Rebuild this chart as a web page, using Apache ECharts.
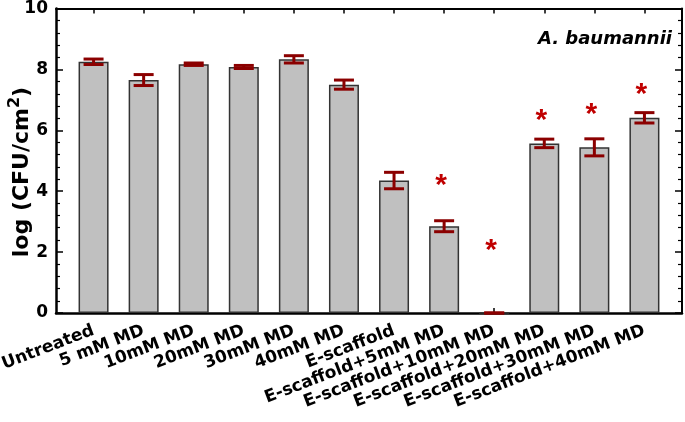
<!DOCTYPE html>
<html>
<head>
<meta charset="utf-8">
<script src="https://cdn.jsdelivr.net/npm/echarts@6/dist/echarts.min.js"></script>
<style>html,body{margin:0;padding:0;background:#fff;}#c{width:685px;height:422px;}</style>
</head>
<body>
<div id="c"></div>
<script>
const categories = ['Untreated','5 mM MD','10mM MD','20mM MD','30mM MD','40mM MD','E-scaffold','E-scaffold+5mM MD','E-scaffold+10mM MD','E-scaffold+20mM MD','E-scaffold+30mM MD','E-scaffold+40mM MD'];
const means = [8.25, 7.65, 8.17, 8.08, 8.33, 7.50, 4.35, 2.85, 0, 5.57, 5.44, 6.41];
const errors = [0.09, 0.18, 0.04, 0.05, 0.12, 0.15, 0.27, 0.18, 0, 0.14, 0.28, 0.17];
const starIndex = [7, 8, 9, 10, 11];
const starValue = [4.31, 2.16, 6.45, 6.63, 7.30];

const FONT = 'DejaVu Sans';
const chart = echarts.init(document.getElementById('c'), null, {renderer: 'canvas'});
const idx = categories.map((_, i) => i);

const baseX = {
  type: 'value', min: -0.75, max: 11.75,
  splitLine: {show: false},
  axisLine: {show: true, onZero: false, lineStyle: {color: '#000', width: 2.5}},
  axisTick: {show: true, inside: true, length: 5, customValues: idx, lineStyle: {color: '#000', width: 1.5}},
  minorTick: {show: false}
};
const baseY = {
  type: 'value', min: 0, max: 10, interval: 2,
  splitLine: {show: false},
  axisLine: {show: true, onZero: false, lineStyle: {color: '#000', width: 2.5}},
  axisTick: {show: true, inside: true, length: 7, lineStyle: {color: '#000', width: 1.5}},
  minorTick: {show: true, splitNumber: 5, length: 4, lineStyle: {color: '#000', width: 1.2}}
};

const option = {
  backgroundColor: '#fff',
  animation: false,
  title: {
    text: 'A. baumannii', right: 8, top: 25,
    textStyle: {fontFamily: FONT, fontSize: 18, fontWeight: 'bold', fontStyle: 'italic', color: '#000'}
  },
  graphic: [{
    type: 'text',
    x: 20, y: 172,
    rotation: Math.PI / 2,
    style: {
      text: '{a|log (CFU/cm}{b|2}{a|)}',
      textAlign: 'center', textVerticalAlign: 'middle',
      rich: {
        a: {fontFamily: FONT, fontSize: 22, fontWeight: 'bold', fill: '#000', lineHeight: 27, verticalAlign: 'bottom'},
        b: {fontFamily: FONT, fontSize: 16, fontWeight: 'bold', fill: '#000', verticalAlign: 'top', lineHeight: 27}
      }
    }
  }],
  grid: {left: 56, right: 3, top: 8.5, bottom: 109, containLabel: false, outerBoundsMode: 'none'},
  xAxis: [
    Object.assign({}, baseX, {
      position: 'bottom',
      axisLabel: {
        show: true, customValues: idx, rotate: 21, margin: 17,
        showMinLabel: true, showMaxLabel: true, hideOverlap: false,
        formatter: v => categories[Math.round(v)],
        fontFamily: FONT, fontSize: 17, fontWeight: 'bold', color: '#000'
      }
    }),
    Object.assign({}, baseX, {
      position: 'top',
      axisLine: {show: true, onZero: false, lineStyle: {color: '#000', width: 2}},
      axisLabel: {show: false}
    })
  ],
  yAxis: [
    Object.assign({}, baseY, {
      position: 'left',
      axisLabel: {
        show: true, margin: 8,
        showMinLabel: true, showMaxLabel: true,
        fontFamily: FONT, fontSize: 17, fontWeight: 'bold', color: '#000'
      }
    }),
    Object.assign({}, baseY, {
      position: 'right',
      axisLine: {show: true, onZero: false, lineStyle: {color: '#000', width: 2}},
      axisLabel: {show: false}
    })
  ],
  series: [
    {
      type: 'bar', xAxisIndex: 0, yAxisIndex: 0,
      data: means.map((v, i) => [i, v]),
      barWidth: 30,
      itemStyle: {color: '#c0c0c0', borderColor: '#333', borderWidth: 1.5},
      z: 2
    },
    {
      type: 'custom', xAxisIndex: 0, yAxisIndex: 0,
      data: means.map((v, i) => [i, v, errors[i]]),
      renderItem: function (params, api) {
        const x = api.value(0), v = api.value(1), e = api.value(2);
        const top = api.coord([x, v + e]);
        const bot = api.coord([x, v - e]);
        const half = 10;
        const st = {stroke: '#8b0000', lineWidth: 3};
        return {
          type: 'group',
          children: [
            {type: 'line', shape: {x1: top[0], y1: top[1], x2: bot[0], y2: bot[1]}, style: st},
            {type: 'line', shape: {x1: top[0] - half, y1: top[1], x2: top[0] + half, y2: top[1]}, style: st},
            {type: 'line', shape: {x1: bot[0] - half, y1: bot[1], x2: bot[0] + half, y2: bot[1]}, style: st}
          ]
        };
      },
      z: 3
    },
    {
      type: 'custom', xAxisIndex: 0, yAxisIndex: 0,
      data: starIndex.map((x, i) => [x, starValue[i]]),
      renderItem: function (params, api) {
        const p = api.coord([api.value(0), api.value(1)]);
        return {
          type: 'text',
          style: {
            x: p[0] - 3, y: p[1] + 4,
            text: '*', fill: '#c00000',
            font: 'bold 30px "Liberation Sans"',
            textAlign: 'center', textVerticalAlign: 'middle'
          }
        };
      },
      z: 4
    }
  ]
};
chart.setOption(option);
</script>
</body>
</html>
